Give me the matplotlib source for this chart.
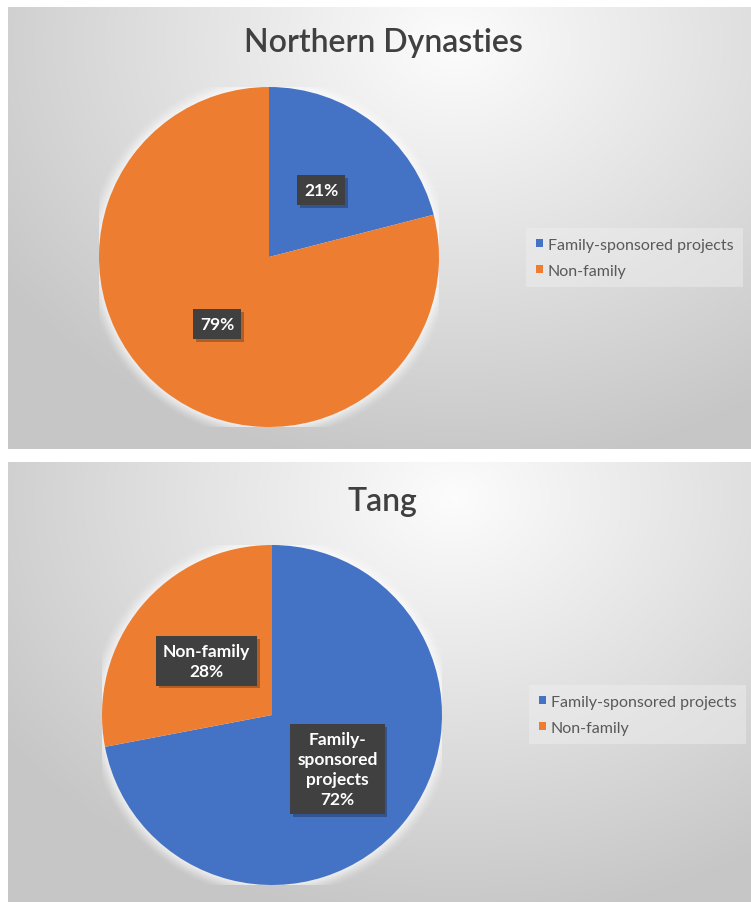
import numpy as np
import matplotlib
matplotlib.use("Agg")
import matplotlib.pyplot as plt
import matplotlib.patheffects as pe
from matplotlib.patches import Circle

# Data
categories = ["Family-sponsored projects", "Non-family"]
northern_share = [21, 79]
tang_share = [72, 28]
northern_labels = ["21%", "79%"]
tang_labels = ["Family-\nsponsored\nprojects\n72%", "Non-family\n28%"]
titles = ["Northern Dynasties", "Tang"]
colors = ["#4472C4", "#ED7D31"]

FONT = "Lato"
W, H = 751, 903
fig = plt.figure(figsize=(W / 100, H / 100), dpi=100, facecolor="white")


def rect(x0, y0, w, h):
    """Pixel rectangle (top-left origin) -> figure fraction rectangle."""
    return [x0 / W, 1 - (y0 + h) / H, w / W, h / H]


def panel_background(r):
    ax = fig.add_axes(r, zorder=0)
    w, h = int(r[2] * W), int(r[3] * H)
    yy, xx = np.mgrid[0:h, 0:w]
    cx, cy = 0.6 * w, 0.08 * h
    d = np.sqrt(((xx - cx) / (0.8 * w)) ** 2 + ((yy - cy) / (1.05 * h)) ** 2)
    v = np.clip(0.99 - 0.23 * d, 0.78, 1.0)
    ax.imshow(np.dstack([v, v, v]), extent=[0, 1, 0, 1], aspect="auto",
              origin="upper", interpolation="bilinear")
    ax.set_axis_off()
    return ax


def draw_pie(r, values, labels, title, title_xy, legend_xy):
    ax = fig.add_axes(r, zorder=2)
    # soft glow around the pie
    for k, a in zip(np.linspace(1.07, 1.0, 8), np.linspace(0.05, 0.25, 8)):
        ax.add_patch(Circle((0, 0), k, color="white", alpha=a, lw=0, zorder=0))
    it = iter(labels)
    wedges, _, autotexts = ax.pie(
        values, colors=colors, startangle=90, counterclock=False, radius=1,
        autopct=lambda p: next(it), pctdistance=0.5,
        wedgeprops=dict(linewidth=0, zorder=1),
        textprops=dict(color="white", fontsize=12.5, fontweight="bold",
                       family=FONT, linespacing=1.3),
    )
    for t in autotexts:
        t.set_ha("center")
        t.set_multialignment("center")
        t.set_bbox(dict(boxstyle="square,pad=0.4", fc="#404040", ec="none"))
        t.get_bbox_patch().set_path_effects(
            [pe.SimplePatchShadow(offset=(2, -2), shadow_rgbFace="black", alpha=0.25),
             pe.Normal()])
    ax.set_xlim(-1, 1)
    ax.set_ylim(-1, 1)
    ax.set_axis_off()

    fig.text(title_xy[0] / W, 1 - title_xy[1] / H, title, ha="center", va="center",
             fontsize=23, fontweight="semibold", color="#404040", family=FONT)

    leg = ax.legend(wedges, categories, loc="upper left",
                    bbox_to_anchor=(legend_xy[0] / W, 1 - legend_xy[1] / H),
                    bbox_transform=fig.transFigure, frameon=True, fancybox=False,
                    handlelength=0.45, handleheight=0.45, borderaxespad=0,
                    handletextpad=0.3, labelspacing=0.75, borderpad=0.6,
                    prop=dict(family=FONT, size=11.5))
    leg.get_frame().set_facecolor("#f0f0f0")
    leg.get_frame().set_alpha(0.45)
    leg.get_frame().set_linewidth(0)
    for txt in leg.get_texts():
        txt.set_color("#595959")


panel_background(rect(8, 8, 743, 442))
panel_background(rect(8, 463, 743, 440))

draw_pie(rect(99, 88, 340, 340), northern_share, northern_labels, titles[0],
         (383, 43), (526, 229))
draw_pie(rect(102, 546, 340, 340), tang_share, tang_labels, titles[1],
         (382, 502), (529, 686))

fig.savefig("out.png", dpi=100, facecolor="white")
